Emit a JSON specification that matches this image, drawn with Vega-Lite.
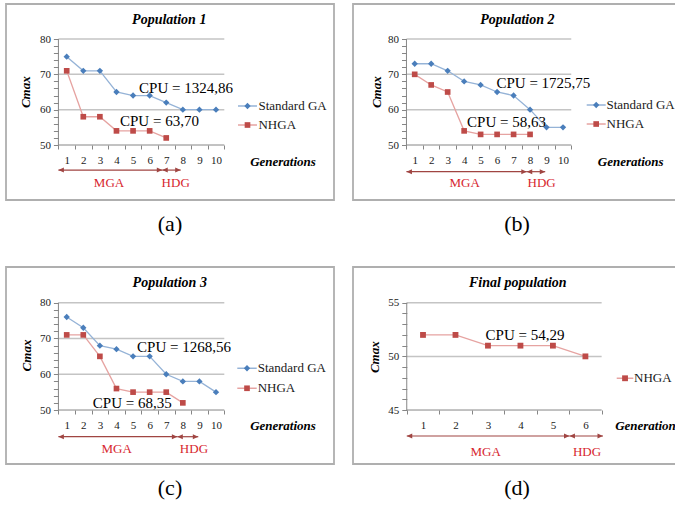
{
"$schema": "https://vega.github.io/schema/vega-lite/v6.json",
"padding": {"left": 5, "top": 3, "right": -7, "bottom": 0},
"background": "white",
"datasets": {
"p1": [
{"gen":1,"cmax":75,"series":"Standard GA"},{"gen":2,"cmax":71,"series":"Standard GA"},{"gen":3,"cmax":71,"series":"Standard GA"},{"gen":4,"cmax":65,"series":"Standard GA"},{"gen":5,"cmax":64,"series":"Standard GA"},{"gen":6,"cmax":64,"series":"Standard GA"},{"gen":7,"cmax":62,"series":"Standard GA"},{"gen":8,"cmax":60,"series":"Standard GA"},{"gen":9,"cmax":60,"series":"Standard GA"},{"gen":10,"cmax":60,"series":"Standard GA"},
{"gen":1,"cmax":71,"series":"NHGA"},{"gen":2,"cmax":58,"series":"NHGA"},{"gen":3,"cmax":58,"series":"NHGA"},{"gen":4,"cmax":54,"series":"NHGA"},{"gen":5,"cmax":54,"series":"NHGA"},{"gen":6,"cmax":54,"series":"NHGA"},{"gen":7,"cmax":52,"series":"NHGA"}],
"p2": [
{"gen":1,"cmax":73,"series":"Standard GA"},{"gen":2,"cmax":73,"series":"Standard GA"},{"gen":3,"cmax":71,"series":"Standard GA"},{"gen":4,"cmax":68,"series":"Standard GA"},{"gen":5,"cmax":67,"series":"Standard GA"},{"gen":6,"cmax":65,"series":"Standard GA"},{"gen":7,"cmax":64,"series":"Standard GA"},{"gen":8,"cmax":60,"series":"Standard GA"},{"gen":9,"cmax":55,"series":"Standard GA"},{"gen":10,"cmax":55,"series":"Standard GA"},
{"gen":1,"cmax":70,"series":"NHGA"},{"gen":2,"cmax":67,"series":"NHGA"},{"gen":3,"cmax":65,"series":"NHGA"},{"gen":4,"cmax":54,"series":"NHGA"},{"gen":5,"cmax":53,"series":"NHGA"},{"gen":6,"cmax":53,"series":"NHGA"},{"gen":7,"cmax":53,"series":"NHGA"},{"gen":8,"cmax":53,"series":"NHGA"}],
"p3": [
{"gen":1,"cmax":76,"series":"Standard GA"},{"gen":2,"cmax":73,"series":"Standard GA"},{"gen":3,"cmax":68,"series":"Standard GA"},{"gen":4,"cmax":67,"series":"Standard GA"},{"gen":5,"cmax":65,"series":"Standard GA"},{"gen":6,"cmax":65,"series":"Standard GA"},{"gen":7,"cmax":60,"series":"Standard GA"},{"gen":8,"cmax":58,"series":"Standard GA"},{"gen":9,"cmax":58,"series":"Standard GA"},{"gen":10,"cmax":55,"series":"Standard GA"},
{"gen":1,"cmax":71,"series":"NHGA"},{"gen":2,"cmax":71,"series":"NHGA"},{"gen":3,"cmax":65,"series":"NHGA"},{"gen":4,"cmax":56,"series":"NHGA"},{"gen":5,"cmax":55,"series":"NHGA"},{"gen":6,"cmax":55,"series":"NHGA"},{"gen":7,"cmax":55,"series":"NHGA"},{"gen":8,"cmax":52,"series":"NHGA"}],
"p4": [
{"gen":1,"cmax":52,"series":"NHGA"},{"gen":2,"cmax":52,"series":"NHGA"},{"gen":3,"cmax":51,"series":"NHGA"},{"gen":4,"cmax":51,"series":"NHGA"},{"gen":5,"cmax":51,"series":"NHGA"},{"gen":6,"cmax":50,"series":"NHGA"}],
"one": [{"k": 1}]
},
"config": {
"view": {"stroke": "#AFAFAF", "strokeWidth": 1.8},
"axis": {"grid": false, "domain": false, "labelFont": "Liberation Serif", "labelFontSize": 11, "labelColor": "#1a1a1a", "tickColor": "#868686", "tickWidth": 1, "titleFont": "Liberation Serif", "titleFontSize": 13, "titleFontStyle": "italic", "titleFontWeight": "bold", "titleColor": "#000000", "labelOverlap": false, "labelBound": false, "labelFlush": false},
"title": {"orient": "bottom", "font": "Liberation Serif", "fontSize": 22, "fontWeight": "normal", "color": "#000000", "offset": 14, "anchor": "middle"},
"text": {"font": "Liberation Serif"}
},
"columns": 2,
"spacing": {"row": 67, "column": 19},
"bounds": "flush",
"concat": [
{"width": 328, "height": 196, "title": {"text": "(a)"}, "data": {"name": "one"},
"layer": [
{"data": {"values": [{"g":60},{"g":70},{"g":80}]}, "mark": {"type": "rule", "color": "#C4C4C4", "strokeWidth": 1.5},
 "encoding": {"y": {"field": "g", "type": "quantitative"}, "x": {"datum": 0.5}, "x2": {"datum": 10.5}}},
{"mark": {"type": "rule", "color": "#868686", "strokeWidth": 1}, "encoding": {"x": {"datum": 0.5}, "y": {"datum": 50}, "y2": {"datum": 80}}},
{"mark": {"type": "rule", "color": "#868686", "strokeWidth": 1}, "encoding": {"y": {"datum": 50}, "x": {"datum": 0.5}, "x2": {"datum": 10.5}}},
{"data": {"name": "p1"}, "transform": [{"filter": "datum.series === 'Standard GA'"}], "mark": {"type": "line", "strokeWidth": 1.3, "color": "#95B3D7"},
 "encoding": {
  "x": {"field": "gen", "type": "quantitative", "scale": {"domain": [-2.659, 17.112], "nice": false, "zero": false},
   "axis": {"title": "Generations", "offset": -55, "values": [0.5,1.5,2.5,3.5,4.5,5.5,6.5,7.5,8.5,9.5,10.5], "tickCount": 100, "labelExpr": "datum.value < 10 ? '' + (datum.value + 0.5) : ''", "labelOffset": 8.3, "labelOverlap": false, "tickSize": 4, "labelPadding": 5, "labelAngle": 0, "titleX": 276.5, "titleY": 16, "titleAngle": 0, "titleBaseline": "middle", "titleAlign": "center"}},
  "y": {"field": "cmax", "type": "quantitative", "scale": {"domain": [34.434, 89.906], "nice": false, "zero": false},
   "axis": {"title": "Cmax", "offset": -52.4, "values": [50,52,54,56,58,60,62,64,66,68,70,72,74,76,78,80], "tickCount": 100, "labelExpr": "datum.value % 10 === 0 ? '' + datum.value : ''", "labelOverlap": false, "tickSize": 5, "labelPadding": 3, "titleX": -33.4, "titleY": 87.7, "titleAngle": 270, "titleAlign": "center", "titleBaseline": "middle"}}}},
{"data": {"name": "p1"}, "transform": [{"filter": "datum.series === 'NHGA'"}], "mark": {"type": "line", "strokeWidth": 1.3, "color": "#E6A3A1"},
 "encoding": {"x": {"field": "gen", "type": "quantitative"}, "y": {"field": "cmax", "type": "quantitative"}}},
{"data": {"name": "p1"}, "transform": [{"filter": "datum.series === 'Standard GA'"}], "mark": {"type": "point", "filled": true, "opacity": 1, "strokeWidth": 0, "shape": "diamond", "size": 40, "color": "#4A7EBB"},
 "encoding": {"x": {"field": "gen", "type": "quantitative"}, "y": {"field": "cmax", "type": "quantitative"}}},
{"data": {"name": "p1"}, "transform": [{"filter": "datum.series === 'NHGA'"}], "mark": {"type": "point", "filled": true, "opacity": 1, "strokeWidth": 0, "shape": "square", "size": 32, "color": "#BE4B48"},
 "encoding": {"x": {"field": "gen", "type": "quantitative"}, "y": {"field": "cmax", "type": "quantitative"}}},
{"mark": {"type": "rule", "color": "#95B3D7", "strokeWidth": 1.5}, "encoding": {"x": {"datum": 11.325}, "x2": {"datum": 12.47}, "y": {"datum": 61.04}}},
{"mark": {"type": "point", "filled": true, "opacity": 1, "strokeWidth": 0, "shape": "diamond", "size": 40, "color": "#4A7EBB"}, "encoding": {"x": {"datum": 11.898}, "y": {"datum": 61.04}}},
{"mark": {"type": "text", "fontSize": 13, "color": "#1a1a1a", "align": "left", "baseline": "middle"}, "encoding": {"x": {"datum": 12.56}, "y": {"datum": 61.04}, "text": {"value": "Standard GA"}}},
{"mark": {"type": "rule", "color": "#E6A3A1", "strokeWidth": 1.5}, "encoding": {"x": {"datum": 11.325}, "x2": {"datum": 12.47}, "y": {"datum": 55.66}}},
{"mark": {"type": "point", "filled": true, "opacity": 1, "strokeWidth": 0, "shape": "square", "size": 32, "color": "#BE4B48"}, "encoding": {"x": {"datum": 11.898}, "y": {"datum": 55.66}}},
{"mark": {"type": "text", "fontSize": 13, "color": "#1a1a1a", "align": "left", "baseline": "middle"}, "encoding": {"x": {"datum": 12.56}, "y": {"datum": 55.66}, "text": {"value": "NHGA"}}},
{"mark": {"type": "text", "fontSize": 14, "fontWeight": "bold", "fontStyle": "italic", "color": "#000000"}, "encoding": {"x": {"datum": 7.18}, "y": {"datum": 85.4}, "text": {"value": "Population 1"}}},
{"mark": {"type": "text", "fontSize": 15, "color": "#000000"}, "encoding": {"x": {"datum": 8.19}, "y": {"datum": 66.0}, "text": {"value": "CPU = 1324,86"}}},
{"mark": {"type": "text", "fontSize": 15, "color": "#000000"}, "encoding": {"x": {"datum": 6.59}, "y": {"datum": 56.9}, "text": {"value": "CPU = 63,70"}}},
{"mark": {"type": "rule", "color": "#A04542", "strokeWidth": 1.2}, "encoding": {"x": {"datum": 0.5}, "x2": {"datum": 6.76}, "y": {"datum": 42.9}}},
{"mark": {"type": "rule", "color": "#A04542", "strokeWidth": 1.2}, "encoding": {"x": {"datum": 6.76}, "x2": {"datum": 7.87}, "y": {"datum": 42.9}}},
{"mark": {"type": "point", "filled": true, "opacity": 1, "strokeWidth": 0, "color": "#A04542", "size": 30, "shape": "M0,0L2,-0.9L2,0.9Z"}, "encoding": {"x": {"datum": 0.5}, "y": {"datum": 42.9}}},
{"mark": {"type": "point", "filled": true, "opacity": 1, "strokeWidth": 0, "color": "#A04542", "size": 30, "shape": "M0,0L-2,-0.9L-2,0.9Z"}, "encoding": {"x": {"datum": 6.76}, "y": {"datum": 42.9}}},
{"mark": {"type": "point", "filled": true, "opacity": 1, "strokeWidth": 0, "color": "#A04542", "size": 30, "shape": "M0,0L2,-0.9L2,0.9Z"}, "encoding": {"x": {"datum": 6.76}, "y": {"datum": 42.9}}},
{"mark": {"type": "point", "filled": true, "opacity": 1, "strokeWidth": 0, "color": "#A04542", "size": 30, "shape": "M0,0L-2,-0.9L-2,0.9Z"}, "encoding": {"x": {"datum": 7.87}, "y": {"datum": 42.9}}},
{"mark": {"type": "text", "fontSize": 13, "color": "#D7262E"}, "encoding": {"x": {"datum": 3.55}, "y": {"datum": 39.25}, "text": {"value": "MGA"}}},
{"mark": {"type": "text", "fontSize": 13, "color": "#D7262E"}, "encoding": {"x": {"datum": 7.57}, "y": {"datum": 39.25}, "text": {"value": "HDG"}}}
]},
{"width": 328, "height": 196, "title": {"text": "(b)"}, "data": {"name": "one"},
"layer": [
{"data": {"values": [{"g":60},{"g":70},{"g":80}]}, "mark": {"type": "rule", "color": "#C4C4C4", "strokeWidth": 1.5},
 "encoding": {"y": {"field": "g", "type": "quantitative"}, "x": {"datum": 0.5}, "x2": {"datum": 10.5}}},
{"mark": {"type": "rule", "color": "#868686", "strokeWidth": 1}, "encoding": {"x": {"datum": 0.5}, "y": {"datum": 50}, "y2": {"datum": 80}}},
{"mark": {"type": "rule", "color": "#868686", "strokeWidth": 1}, "encoding": {"y": {"datum": 50}, "x": {"datum": 0.5}, "x2": {"datum": 10.5}}},
{"data": {"name": "p2"}, "transform": [{"filter": "datum.series === 'Standard GA'"}], "mark": {"type": "line", "strokeWidth": 1.3, "color": "#95B3D7"},
 "encoding": {
  "x": {"field": "gen", "type": "quantitative", "scale": {"domain": [-2.744, 17.159], "nice": false, "zero": false},
   "axis": {"title": "Generations", "offset": -55, "values": [0.5,1.5,2.5,3.5,4.5,5.5,6.5,7.5,8.5,9.5,10.5], "tickCount": 100, "labelExpr": "datum.value < 10 ? '' + (datum.value + 0.5) : ''", "labelOffset": 8.24, "labelOverlap": false, "tickSize": 4, "labelPadding": 5, "labelAngle": 0, "titleX": 277.2, "titleY": 16, "titleAngle": 0, "titleBaseline": "middle", "titleAlign": "center"}},
  "y": {"field": "cmax", "type": "quantitative", "scale": {"domain": [34.434, 89.906], "nice": false, "zero": false},
   "axis": {"title": "Cmax", "offset": -53.5, "values": [50,52,54,56,58,60,62,64,66,68,70,72,74,76,78,80], "tickCount": 100, "labelExpr": "datum.value % 10 === 0 ? '' + datum.value : ''", "labelOverlap": false, "tickSize": 5, "labelPadding": 3, "titleX": -30.1, "titleY": 87.7, "titleAngle": 270, "titleAlign": "center", "titleBaseline": "middle"}}}},
{"data": {"name": "p2"}, "transform": [{"filter": "datum.series === 'NHGA'"}], "mark": {"type": "line", "strokeWidth": 1.3, "color": "#E6A3A1"},
 "encoding": {"x": {"field": "gen", "type": "quantitative"}, "y": {"field": "cmax", "type": "quantitative"}}},
{"data": {"name": "p2"}, "transform": [{"filter": "datum.series === 'Standard GA'"}], "mark": {"type": "point", "filled": true, "opacity": 1, "strokeWidth": 0, "shape": "diamond", "size": 40, "color": "#4A7EBB"},
 "encoding": {"x": {"field": "gen", "type": "quantitative"}, "y": {"field": "cmax", "type": "quantitative"}}},
{"data": {"name": "p2"}, "transform": [{"filter": "datum.series === 'NHGA'"}], "mark": {"type": "point", "filled": true, "opacity": 1, "strokeWidth": 0, "shape": "square", "size": 32, "color": "#BE4B48"},
 "encoding": {"x": {"field": "gen", "type": "quantitative"}, "y": {"field": "cmax", "type": "quantitative"}}},
{"mark": {"type": "rule", "color": "#95B3D7", "strokeWidth": 1.5}, "encoding": {"x": {"datum": 11.437}, "x2": {"datum": 12.59}, "y": {"datum": 61.32}}},
{"mark": {"type": "point", "filled": true, "opacity": 1, "strokeWidth": 0, "shape": "diamond", "size": 40, "color": "#4A7EBB"}, "encoding": {"x": {"datum": 12.013}, "y": {"datum": 61.32}}},
{"mark": {"type": "text", "fontSize": 13, "color": "#1a1a1a", "align": "left", "baseline": "middle"}, "encoding": {"x": {"datum": 12.638}, "y": {"datum": 61.32}, "text": {"value": "Standard GA"}}},
{"mark": {"type": "rule", "color": "#E6A3A1", "strokeWidth": 1.5}, "encoding": {"x": {"datum": 11.437}, "x2": {"datum": 12.59}, "y": {"datum": 55.94}}},
{"mark": {"type": "point", "filled": true, "opacity": 1, "strokeWidth": 0, "shape": "square", "size": 32, "color": "#BE4B48"}, "encoding": {"x": {"datum": 12.013}, "y": {"datum": 55.94}}},
{"mark": {"type": "text", "fontSize": 13, "color": "#1a1a1a", "align": "left", "baseline": "middle"}, "encoding": {"x": {"datum": 12.638}, "y": {"datum": 55.94}, "text": {"value": "NHGA"}}},
{"mark": {"type": "text", "fontSize": 14, "fontWeight": "bold", "fontStyle": "italic", "color": "#000000"}, "encoding": {"x": {"datum": 7.23}, "y": {"datum": 85.4}, "text": {"value": "Population 2"}}},
{"mark": {"type": "text", "fontSize": 15, "color": "#000000"}, "encoding": {"x": {"datum": 8.81}, "y": {"datum": 67.6}, "text": {"value": "CPU = 1725,75"}}},
{"mark": {"type": "text", "fontSize": 15, "color": "#000000"}, "encoding": {"x": {"datum": 6.57}, "y": {"datum": 56.6}, "text": {"value": "CPU = 58,63"}}},
{"mark": {"type": "rule", "color": "#A04542", "strokeWidth": 1.2}, "encoding": {"x": {"datum": 0.5}, "x2": {"datum": 7.8}, "y": {"datum": 42.45}}},
{"mark": {"type": "rule", "color": "#A04542", "strokeWidth": 1.2}, "encoding": {"x": {"datum": 7.8}, "x2": {"datum": 8.92}, "y": {"datum": 42.45}}},
{"mark": {"type": "point", "filled": true, "opacity": 1, "strokeWidth": 0, "color": "#A04542", "size": 30, "shape": "M0,0L2,-0.9L2,0.9Z"}, "encoding": {"x": {"datum": 0.5}, "y": {"datum": 42.45}}},
{"mark": {"type": "point", "filled": true, "opacity": 1, "strokeWidth": 0, "color": "#A04542", "size": 30, "shape": "M0,0L-2,-0.9L-2,0.9Z"}, "encoding": {"x": {"datum": 7.8}, "y": {"datum": 42.45}}},
{"mark": {"type": "point", "filled": true, "opacity": 1, "strokeWidth": 0, "color": "#A04542", "size": 30, "shape": "M0,0L2,-0.9L2,0.9Z"}, "encoding": {"x": {"datum": 7.8}, "y": {"datum": 42.45}}},
{"mark": {"type": "point", "filled": true, "opacity": 1, "strokeWidth": 0, "color": "#A04542", "size": 30, "shape": "M0,0L-2,-0.9L-2,0.9Z"}, "encoding": {"x": {"datum": 8.92}, "y": {"datum": 42.45}}},
{"mark": {"type": "text", "fontSize": 13, "color": "#D7262E"}, "encoding": {"x": {"datum": 4.03}, "y": {"datum": 39.15}, "text": {"value": "MGA"}}},
{"mark": {"type": "text", "fontSize": 13, "color": "#D7262E"}, "encoding": {"x": {"datum": 8.7}, "y": {"datum": 39.15}, "text": {"value": "HDG"}}}
]},
{"width": 328, "height": 197, "title": {"text": "(c)"}, "data": {"name": "one"},
"layer": [
{"data": {"values": [{"g":60},{"g":70},{"g":80}]}, "mark": {"type": "rule", "color": "#C4C4C4", "strokeWidth": 1.5},
 "encoding": {"y": {"field": "g", "type": "quantitative"}, "x": {"datum": 0.5}, "x2": {"datum": 10.5}}},
{"mark": {"type": "rule", "color": "#868686", "strokeWidth": 1}, "encoding": {"x": {"datum": 0.5}, "y": {"datum": 50}, "y2": {"datum": 80}}},
{"mark": {"type": "rule", "color": "#868686", "strokeWidth": 1}, "encoding": {"y": {"datum": 50}, "x": {"datum": 0.5}, "x2": {"datum": 10.5}}},
{"data": {"name": "p3"}, "transform": [{"filter": "datum.series === 'Standard GA'"}], "mark": {"type": "line", "strokeWidth": 1.3, "color": "#95B3D7"},
 "encoding": {
  "x": {"field": "gen", "type": "quantitative", "scale": {"domain": [-2.659, 17.112], "nice": false, "zero": false},
   "axis": {"title": "Generations", "offset": -54, "values": [0.5,1.5,2.5,3.5,4.5,5.5,6.5,7.5,8.5,9.5,10.5], "tickCount": 100, "labelExpr": "datum.value < 10 ? '' + (datum.value + 0.5) : ''", "labelOffset": 8.3, "labelOverlap": false, "tickSize": 4, "labelPadding": 5, "labelAngle": 0, "titleX": 276.5, "titleY": 15, "titleAngle": 0, "titleBaseline": "middle", "titleAlign": "center"}},
  "y": {"field": "cmax", "type": "quantitative", "scale": {"domain": [34.91, 89.98], "nice": false, "zero": false},
   "axis": {"title": "Cmax", "offset": -52.4, "values": [50,52,54,56,58,60,62,64,66,68,70,72,74,76,78,80], "tickCount": 100, "labelExpr": "datum.value % 10 === 0 ? '' + datum.value : ''", "labelOverlap": false, "tickSize": 5, "labelPadding": 3, "titleX": -32.4, "titleY": 88, "titleAngle": 270, "titleAlign": "center", "titleBaseline": "middle"}}}},
{"data": {"name": "p3"}, "transform": [{"filter": "datum.series === 'NHGA'"}], "mark": {"type": "line", "strokeWidth": 1.3, "color": "#E6A3A1"},
 "encoding": {"x": {"field": "gen", "type": "quantitative"}, "y": {"field": "cmax", "type": "quantitative"}}},
{"data": {"name": "p3"}, "transform": [{"filter": "datum.series === 'Standard GA'"}], "mark": {"type": "point", "filled": true, "opacity": 1, "strokeWidth": 0, "shape": "diamond", "size": 40, "color": "#4A7EBB"},
 "encoding": {"x": {"field": "gen", "type": "quantitative"}, "y": {"field": "cmax", "type": "quantitative"}}},
{"data": {"name": "p3"}, "transform": [{"filter": "datum.series === 'NHGA'"}], "mark": {"type": "point", "filled": true, "opacity": 1, "strokeWidth": 0, "shape": "square", "size": 32, "color": "#BE4B48"},
 "encoding": {"x": {"field": "gen", "type": "quantitative"}, "y": {"field": "cmax", "type": "quantitative"}}},
{"mark": {"type": "rule", "color": "#95B3D7", "strokeWidth": 1.5}, "encoding": {"x": {"datum": 11.283}, "x2": {"datum": 12.453}, "y": {"datum": 61.67}}},
{"mark": {"type": "point", "filled": true, "opacity": 1, "strokeWidth": 0, "shape": "diamond", "size": 40, "color": "#4A7EBB"}, "encoding": {"x": {"datum": 11.868}, "y": {"datum": 61.67}}},
{"mark": {"type": "text", "fontSize": 13, "color": "#1a1a1a", "align": "left", "baseline": "middle"}, "encoding": {"x": {"datum": 12.513}, "y": {"datum": 61.67}, "text": {"value": "Standard GA"}}},
{"mark": {"type": "rule", "color": "#E6A3A1", "strokeWidth": 1.5}, "encoding": {"x": {"datum": 11.283}, "x2": {"datum": 12.453}, "y": {"datum": 56.08}}},
{"mark": {"type": "point", "filled": true, "opacity": 1, "strokeWidth": 0, "shape": "square", "size": 32, "color": "#BE4B48"}, "encoding": {"x": {"datum": 11.868}, "y": {"datum": 56.08}}},
{"mark": {"type": "text", "fontSize": 13, "color": "#1a1a1a", "align": "left", "baseline": "middle"}, "encoding": {"x": {"datum": 12.513}, "y": {"datum": 56.08}, "text": {"value": "NHGA"}}},
{"mark": {"type": "text", "fontSize": 14, "fontWeight": "bold", "fontStyle": "italic", "color": "#000000"}, "encoding": {"x": {"datum": 7.21}, "y": {"datum": 85.6}, "text": {"value": "Population 3"}}},
{"mark": {"type": "text", "fontSize": 15, "color": "#000000"}, "encoding": {"x": {"datum": 8.07}, "y": {"datum": 67.7}, "text": {"value": "CPU = 1268,56"}}},
{"mark": {"type": "text", "fontSize": 15, "color": "#000000"}, "encoding": {"x": {"datum": 4.95}, "y": {"datum": 52.05}, "text": {"value": "CPU = 68,35"}}},
{"mark": {"type": "rule", "color": "#A04542", "strokeWidth": 1.2}, "encoding": {"x": {"datum": 0.5}, "x2": {"datum": 7.67}, "y": {"datum": 42.54}}},
{"mark": {"type": "rule", "color": "#A04542", "strokeWidth": 1.2}, "encoding": {"x": {"datum": 7.67}, "x2": {"datum": 8.93}, "y": {"datum": 42.54}}},
{"mark": {"type": "point", "filled": true, "opacity": 1, "strokeWidth": 0, "color": "#A04542", "size": 30, "shape": "M0,0L2,-0.9L2,0.9Z"}, "encoding": {"x": {"datum": 0.5}, "y": {"datum": 42.54}}},
{"mark": {"type": "point", "filled": true, "opacity": 1, "strokeWidth": 0, "color": "#A04542", "size": 30, "shape": "M0,0L-2,-0.9L-2,0.9Z"}, "encoding": {"x": {"datum": 7.67}, "y": {"datum": 42.54}}},
{"mark": {"type": "point", "filled": true, "opacity": 1, "strokeWidth": 0, "color": "#A04542", "size": 30, "shape": "M0,0L2,-0.9L2,0.9Z"}, "encoding": {"x": {"datum": 7.67}, "y": {"datum": 42.54}}},
{"mark": {"type": "point", "filled": true, "opacity": 1, "strokeWidth": 0, "color": "#A04542", "size": 30, "shape": "M0,0L-2,-0.9L-2,0.9Z"}, "encoding": {"x": {"datum": 8.93}, "y": {"datum": 42.54}}},
{"mark": {"type": "text", "fontSize": 13, "color": "#D7262E"}, "encoding": {"x": {"datum": 4.01}, "y": {"datum": 39.0}, "text": {"value": "MGA"}}},
{"mark": {"type": "text", "fontSize": 13, "color": "#D7262E"}, "encoding": {"x": {"datum": 8.67}, "y": {"datum": 39.0}, "text": {"value": "HDG"}}}
]},
{"width": 328, "height": 197, "title": {"text": "(d)"}, "data": {"name": "one"},
"layer": [
{"data": {"values": [{"g":50},{"g":55}]}, "mark": {"type": "rule", "color": "#C4C4C4", "strokeWidth": 1.5},
 "encoding": {"y": {"field": "g", "type": "quantitative"}, "x": {"datum": 0.5}, "x2": {"datum": 6.5}}},
{"mark": {"type": "rule", "color": "#868686", "strokeWidth": 1}, "encoding": {"x": {"datum": 0.5}, "y": {"datum": 45}, "y2": {"datum": 55}}},
{"mark": {"type": "rule", "color": "#868686", "strokeWidth": 1}, "encoding": {"y": {"datum": 45}, "x": {"datum": 0.5}, "x2": {"datum": 6.5}}},
{"data": {"name": "p4"}, "mark": {"type": "line", "strokeWidth": 1.3, "color": "#E6A3A1"},
 "encoding": {
  "x": {"field": "gen", "type": "quantitative", "scale": {"domain": [-1.155, 8.943], "nice": false, "zero": false},
   "axis": {"title": "Generations", "offset": -54, "values": [0.5,1.5,2.5,3.5,4.5,5.5,6.5], "tickCount": 100, "labelExpr": "datum.value < 6 ? '' + (datum.value + 0.5) : ''", "labelOffset": 16.24, "labelOverlap": false, "tickSize": 4, "labelPadding": 5, "labelAngle": 0, "titleX": 294.5, "titleY": 15.7, "titleAngle": 0, "titleBaseline": "middle", "titleAlign": "center"}},
  "y": {"field": "cmax", "type": "quantitative", "scale": {"domain": [39.97, 58.33], "nice": false, "zero": false},
   "axis": {"title": "Cmax", "offset": -53.8, "values": [45,46,47,48,49,50,51,52,53,54,55], "tickCount": 100, "labelExpr": "datum.value % 5 === 0 ? '' + datum.value : ''", "labelOverlap": false, "tickSize": 5, "labelPadding": 3, "titleX": -32.1, "titleY": 89.7, "titleAngle": 270, "titleAlign": "center", "titleBaseline": "middle"}}}},
{"data": {"name": "p4"}, "mark": {"type": "point", "filled": true, "opacity": 1, "strokeWidth": 0, "shape": "square", "size": 34, "color": "#BE4B48"},
 "encoding": {"x": {"field": "gen", "type": "quantitative"}, "y": {"field": "cmax", "type": "quantitative"}}},
{"mark": {"type": "rule", "color": "#E6A3A1", "strokeWidth": 1.5}, "encoding": {"x": {"datum": 6.964}, "x2": {"datum": 7.475}, "y": {"datum": 47.96}}},
{"mark": {"type": "point", "filled": true, "opacity": 1, "strokeWidth": 0, "shape": "square", "size": 34, "color": "#BE4B48"}, "encoding": {"x": {"datum": 7.22}, "y": {"datum": 47.96}}},
{"mark": {"type": "text", "fontSize": 13, "color": "#1a1a1a", "align": "left", "baseline": "middle"}, "encoding": {"x": {"datum": 7.497}, "y": {"datum": 47.96}, "text": {"value": "NHGA"}}},
{"mark": {"type": "text", "fontSize": 14, "fontWeight": "bold", "fontStyle": "italic", "color": "#000000"}, "encoding": {"x": {"datum": 3.92}, "y": {"datum": 56.86}, "text": {"value": "Final population"}}},
{"mark": {"type": "text", "fontSize": 15, "color": "#000000"}, "encoding": {"x": {"datum": 4.14}, "y": {"datum": 52.0}, "text": {"value": "CPU = 54,29"}}},
{"mark": {"type": "rule", "color": "#A04542", "strokeWidth": 1.2}, "encoding": {"x": {"datum": 0.5}, "x2": {"datum": 5.51}, "y": {"datum": 42.58}}},
{"mark": {"type": "rule", "color": "#A04542", "strokeWidth": 1.2}, "encoding": {"x": {"datum": 5.51}, "x2": {"datum": 6.54}, "y": {"datum": 42.58}}},
{"mark": {"type": "point", "filled": true, "opacity": 1, "strokeWidth": 0, "color": "#A04542", "size": 30, "shape": "M0,0L2,-0.9L2,0.9Z"}, "encoding": {"x": {"datum": 0.5}, "y": {"datum": 42.58}}},
{"mark": {"type": "point", "filled": true, "opacity": 1, "strokeWidth": 0, "color": "#A04542", "size": 30, "shape": "M0,0L-2,-0.9L-2,0.9Z"}, "encoding": {"x": {"datum": 5.51}, "y": {"datum": 42.58}}},
{"mark": {"type": "point", "filled": true, "opacity": 1, "strokeWidth": 0, "color": "#A04542", "size": 30, "shape": "M0,0L2,-0.9L2,0.9Z"}, "encoding": {"x": {"datum": 5.51}, "y": {"datum": 42.58}}},
{"mark": {"type": "point", "filled": true, "opacity": 1, "strokeWidth": 0, "color": "#A04542", "size": 30, "shape": "M0,0L-2,-0.9L-2,0.9Z"}, "encoding": {"x": {"datum": 6.54}, "y": {"datum": 42.58}}},
{"mark": {"type": "text", "fontSize": 13, "color": "#D7262E"}, "encoding": {"x": {"datum": 2.93}, "y": {"datum": 41.11}, "text": {"value": "MGA"}}},
{"mark": {"type": "text", "fontSize": 13, "color": "#D7262E"}, "encoding": {"x": {"datum": 6.05}, "y": {"datum": 41.11}, "text": {"value": "HDG"}}}
]}
]
}
